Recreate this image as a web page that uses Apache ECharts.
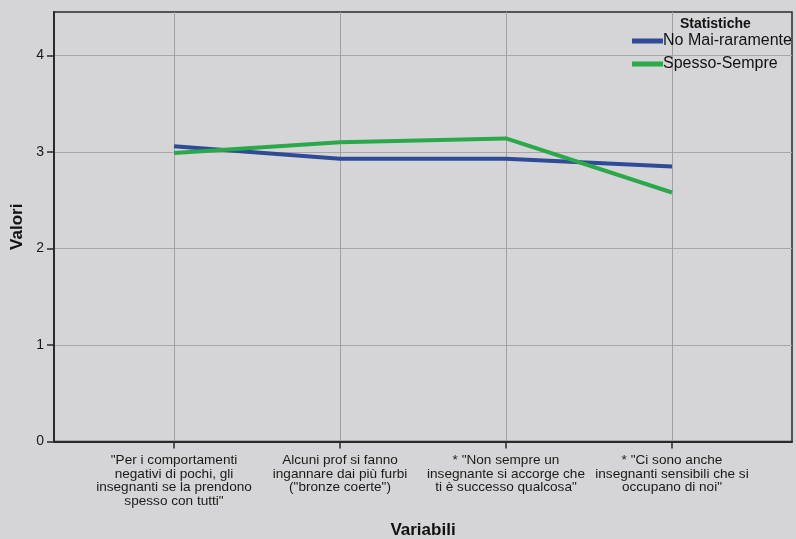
<!DOCTYPE html>
<html>
<head>
<meta charset="utf-8">
<script src="https://cdn.jsdelivr.net/npm/echarts@6/dist/echarts.min.js"></script>
<style>
  html, body { margin: 0; padding: 0; background: #d5d5d7; }
  #chart { width: 796px; height: 539px; }
</style>
</head>
<body>
<div id="chart"></div>
<script>
// Statement categories shown along the x axis
const categories = [
  '"Per i comportamenti\nnegativi di pochi, gli\ninsegnanti se la prendono\nspesso con tutti"',
  'Alcuni prof si fanno\ningannare dai più furbi\n("bronze coerte")',
  '* "Non sempre un\ninsegnante si accorge che\nti è successo qualcosa"',
  '* "Ci sono anche\ninsegnanti sensibili che si\noccupano di noi"'
];
const seriesNames = ['No Mai-raramente', 'Spesso-Sempre'];
const noMaiRaramente = [3.06, 2.93, 2.93, 2.85];
const spessoSempre = [2.99, 3.10, 3.14, 2.58];
const yTicks = [0, 1, 2, 3, 4];

const catIndex = categories.map((_, i) => i);
const toPoints = vals => vals.map((v, i) => [i, v]);

const chart = echarts.init(document.getElementById('chart'));
const fontFam = 'Liberation Sans, Arial, sans-serif';

chart.setOption({
  backgroundColor: '#d5d5d7',
  animation: false,
  title: {
    text: 'Statistiche',
    left: 675, top: 12,
    textStyle: { fontFamily: fontFam, fontSize: 14, fontWeight: 'bold', color: '#111' }
  },
  legend: {
    orient: 'vertical',
    left: 627, top: 27,
    itemWidth: 31, itemHeight: 5, itemGap: 5,
    icon: 'rect',
    data: seriesNames,
    textStyle: { fontFamily: fontFam, fontSize: 16, color: '#111', lineHeight: 18, padding: [0, 0, 0, -5] }
  },
  grid: {
    left: 54, right: 4, top: 12, bottom: 97.5,
    show: true, borderColor: '#2a2a2a', borderWidth: 1.5,
    outerBoundsMode: 'none'
  },
  xAxis: {
    type: 'value',
    min: -0.723, max: 3.723,
    name: 'Variabili',
    nameLocation: 'middle',
    nameGap: 80,
    nameTextStyle: { fontFamily: fontFam, fontSize: 17, fontWeight: 'bold', color: '#111' },
    axisLine: { show: true, onZero: false, lineStyle: { color: '#2a2a2a', width: 2 } },
    axisTick: { show: true, length: 7, customValues: catIndex, lineStyle: { color: '#2a2a2a', width: 1.5 } },
    axisLabel: {
      customValues: catIndex,
      margin: 12,
      fontFamily: fontFam, fontSize: 13.6, lineHeight: 13.6, color: '#1a1a1a', align: 'center',
      formatter: v => categories[Math.round(v)] || ''
    },
    splitLine: { show: true, lineStyle: { color: '#a0a0a2', width: 1 } }
  },
  yAxis: {
    type: 'value',
    min: 0, max: 4.45,
    name: 'Valori',
    nameLocation: 'middle',
    nameRotate: 90,
    nameGap: 28,
    nameTextStyle: { fontFamily: fontFam, fontSize: 17, fontWeight: 'bold', color: '#111' },
    axisLine: { show: true, onZero: false, lineStyle: { color: '#2a2a2a', width: 2 } },
    axisTick: { show: true, length: 7, customValues: yTicks, lineStyle: { color: '#2a2a2a', width: 1.5 } },
    axisLabel: {
      customValues: yTicks,
      margin: 10,
      fontFamily: fontFam, fontSize: 14, color: '#1a1a1a'
    },
    splitLine: { show: true, lineStyle: { color: '#a8a8aa', width: 1 } }
  },
  series: [
    {
      name: seriesNames[0], type: 'line',
      data: toPoints(noMaiRaramente),
      symbol: 'none',
      color: '#2f4a96',
      lineStyle: { width: 4, color: '#2f4a96' }
    },
    {
      name: seriesNames[1], type: 'line',
      data: toPoints(spessoSempre),
      symbol: 'none',
      color: '#2aa84a',
      lineStyle: { width: 4, color: '#2aa84a' }
    }
  ]
});
</script>
</body>
</html>
